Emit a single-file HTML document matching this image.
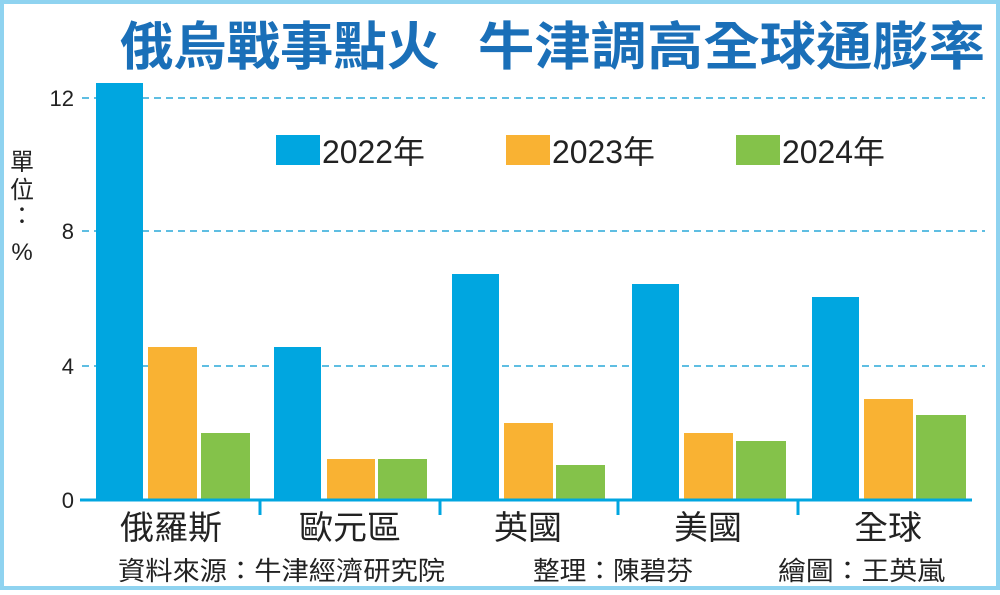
<!DOCTYPE html><html><head><meta charset="utf-8"><style>
body{margin:0;width:1000px;height:590px;overflow:hidden;background:#fff}
svg text{font-family:"Liberation Sans","Noto Sans CJK TC",sans-serif}
</style></head><body>
<svg width="1000" height="590" viewBox="0 0 1000 590" xmlns="http://www.w3.org/2000/svg">
<rect x="2" y="2" width="996" height="586" fill="#fff" stroke="#8fd3f0" stroke-width="4"/>
<g font-size="52" font-weight="bold" fill="#1a6fb8" style="font-family:'Noto Sans CJK TC',sans-serif">
<text x="120" y="65" textLength="320" lengthAdjust="spacingAndGlyphs">俄烏戰事點火</text>
<text x="478" y="65" textLength="507" lengthAdjust="spacingAndGlyphs">牛津調高全球通膨率</text>
</g>
<g stroke="#2aa8d8" stroke-width="1.6" stroke-dasharray="7,5">
<line x1="82" y1="98" x2="985" y2="98"/><line x1="82" y1="231" x2="985" y2="231"/><line x1="82" y1="366" x2="985" y2="366"/>
</g>
<g font-size="22" fill="#222" text-anchor="end">
<text x="74" y="106">12</text><text x="74" y="239">8</text><text x="74" y="374">4</text><text x="74" y="508">0</text>
</g>
<g font-size="24" fill="#222" style="font-family:'Noto Sans CJK TC',sans-serif" text-anchor="middle">
<text x="22" y="170">單</text><text x="22" y="198">位</text><text x="22" y="224">：</text><text x="22" y="260">%</text>
</g>
<g fill="#00a6e0">
<rect x="96" y="83" width="47" height="417"/><rect x="274" y="347" width="47" height="153"/><rect x="452" y="274" width="47" height="226"/><rect x="632" y="284" width="47" height="216"/><rect x="812" y="297" width="47" height="203"/>
</g>
<g fill="#f9b233">
<rect x="148" y="347" width="49" height="153"/><rect x="327" y="459" width="48" height="41"/><rect x="504" y="423" width="49" height="77"/><rect x="684" y="433" width="49" height="67"/><rect x="864" y="399" width="49" height="101"/>
</g>
<g fill="#84c24a">
<rect x="201" y="433" width="49" height="67"/><rect x="378" y="459" width="49" height="41"/><rect x="556" y="465" width="49" height="35"/><rect x="736" y="441" width="50" height="59"/><rect x="916" y="415" width="50" height="85"/>
</g>
<line x1="80" y1="500" x2="972" y2="500" stroke="#00a6e0" stroke-width="3"/>
<g stroke="#00a6e0" stroke-width="3">
<line x1="260" y1="500" x2="260" y2="515"/><line x1="440" y1="500" x2="440" y2="515"/><line x1="618" y1="500" x2="618" y2="515"/><line x1="798" y1="500" x2="798" y2="515"/>
</g>
<g font-size="33" fill="#222" style="font-family:'Noto Sans CJK TC',sans-serif">
<text x="120" y="539" textLength="102" lengthAdjust="spacingAndGlyphs">俄羅斯</text><text x="299" y="539" textLength="102" lengthAdjust="spacingAndGlyphs">歐元區</text><text x="494" y="539" textLength="68" lengthAdjust="spacingAndGlyphs">英國</text><text x="674" y="539" textLength="68" lengthAdjust="spacingAndGlyphs">美國</text><text x="854" y="539" textLength="68" lengthAdjust="spacingAndGlyphs">全球</text>
</g>
<g font-size="26" fill="#222" style="font-family:'Noto Sans CJK TC',sans-serif">
<text x="118" y="580" textLength="327" lengthAdjust="spacingAndGlyphs">資料來源：牛津經濟研究院</text><text x="533" y="580" textLength="160" lengthAdjust="spacingAndGlyphs">整理：陳碧芬</text><text x="778" y="580" textLength="167" lengthAdjust="spacingAndGlyphs">繪圖：王英嵐</text>
</g>
<rect x="276" y="135" width="44" height="30" fill="#00a6e0"/><text x="322" y="163" font-size="32" fill="#222" textLength="103" lengthAdjust="spacingAndGlyphs">2022年</text>
<rect x="506" y="135" width="44" height="30" fill="#f9b233"/><text x="552" y="163" font-size="32" fill="#222" textLength="103" lengthAdjust="spacingAndGlyphs">2023年</text>
<rect x="736" y="135" width="44" height="30" fill="#84c24a"/><text x="782" y="163" font-size="32" fill="#222" textLength="103" lengthAdjust="spacingAndGlyphs">2024年</text>
</svg></body></html>
